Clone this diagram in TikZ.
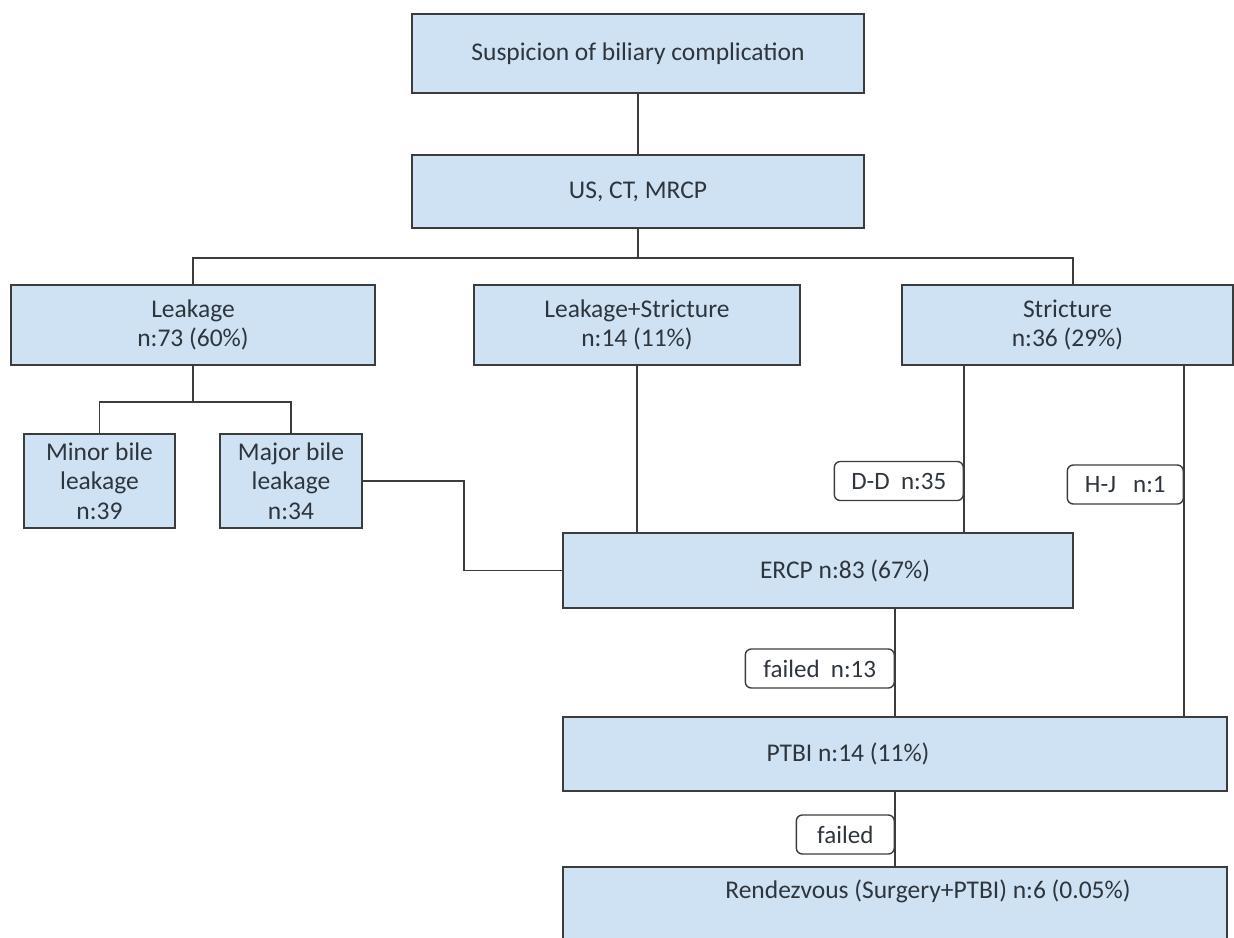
\documentclass[tikz,border=0pt]{standalone}
\usepackage{fontspec}
\setmainfont{Carlito}
\usetikzlibrary{positioning,calc}
\definecolor{boxfill}{HTML}{CFE2F3}
\definecolor{edge}{HTML}{3C3C3C}
\definecolor{ink}{HTML}{2E353D}

\begin{document}
\begin{tikzpicture}[x=1pt,y=-1pt,
  b/.style={draw=edge,fill=boxfill,line width=1.6pt,align=center,text=ink,font=\fontsize{25.5}{29.5}\selectfont,inner sep=0pt},
  lab/.style={text=ink,font=\fontsize{25.5}{29.5}\selectfont,inner sep=0pt},
  tag/.style={draw=edge,fill=white,rounded corners=6pt,line width=1.4pt,text=ink,font=\fontsize{25}{29}\selectfont,minimum height=39pt,inner sep=0pt,anchor=east},
  ln/.style={draw=edge,line width=1.6pt}]
\useasboundingbox (0,0) rectangle (1234,937);
\begin{scope}
\clip (0,0) rectangle (1234,937);
\node[b,minimum width=452pt,minimum height=79pt] (susp) at (638,53.5) {Suspicion of biliary complication};
\node[b,minimum width=452pt,minimum height=73pt] (imag) at (638,191.5) {US, CT, MRCP};
\node[b,minimum width=364pt,minimum height=80pt] (leak) at (193,325) {Leakage\\n:73 (60\%)};
\node[b,minimum width=326pt,minimum height=80pt] (lkst) at (637,325) {Leakage+Stricture\\n:14 (11\%)};
\node[b,minimum width=331pt,minimum height=80pt] (stri) at (1067.5,325) {Stricture\\n:36 (29\%)};
\node[b,minimum width=151pt,minimum height=94pt] (minor) at (99.5,481) {Minor bile\\leakage\\n:39};
\node[b,minimum width=142pt,minimum height=94pt] (major) at (291,481) {Major bile\\leakage\\n:34};
\node[b,minimum width=510pt,minimum height=75pt,label={[lab,xshift=27pt]center:ERCP n:83 (67\%)}] (ercp) at (818,570.5) {};
\node[b,minimum width=664pt,minimum height=74pt,label={[lab,xshift=-47pt]center:PTBI n:14 (11\%)}] (ptbi) at (895,754) {};
\node[b,minimum width=664pt,minimum height=80pt,label={[lab,xshift=33pt,yshift=16pt]center:Rendezvous (Surgery+PTBI) n:6 (0.05\%)}] (rend) at (895,907) {};
% connectors
\draw[ln] (susp) -- (imag);
\draw[ln] (imag.south) -- ++(0,29) coordinate (fork);
\draw[ln] (leak.north) |- (fork) -| ([xshift=5.5pt]stri.north);
\draw[ln] (lkst.south) -- (lkst.south |- ercp.north);
\draw[ln] (leak.south) -- ++(0,36) coordinate (split);
\draw[ln] (minor.north) |- (split) -| (major.north);
\draw[ln] (major.east) -- ++(101,0) |- (ercp.west);
\draw[ln] ([xshift=-103.5pt]stri.south) coordinate (ddtop) -- (ddtop |- ercp.north);
\draw[ln] ([xshift=116.5pt]stri.south) coordinate (hjtop) -- (hjtop |- ptbi.north);
\draw[ln] (ptbi.north) -- (ptbi.north |- ercp.south);
\draw[ln] (ptbi) -- (rend);
% branch tags
\node[tag,minimum width=129pt] (dd) at (ddtop |- 0,481) {D-D\ \ n:35};
\node[tag,minimum width=116pt] (hj) at (hjtop |- 0,484.5) {H-J\ \ \ n:1};
\node[tag,minimum width=149pt] (f13) at (ptbi.north |- 0,668.5) {failed\ \ n:13};
\node[tag,minimum width=98pt] (fail) at (ptbi.south |- 0,834.5) {failed};
\end{scope}
\end{tikzpicture}
\end{document}
